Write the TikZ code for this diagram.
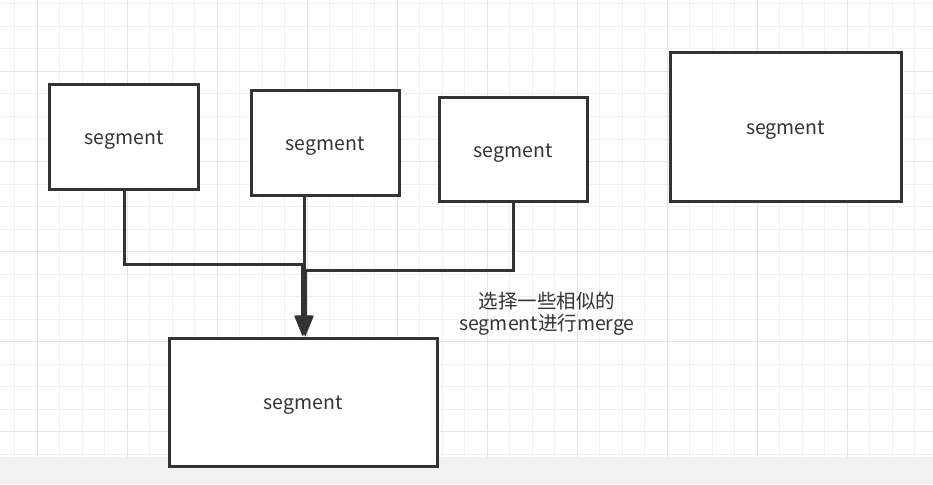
\documentclass[tikz,border=0pt]{standalone}
\usepackage{fontspec}
\setmainfont{Noto Sans CJK SC}
\usetikzlibrary{arrows.meta}

\definecolor{linegray}{HTML}{333333}
\definecolor{gridminor}{HTML}{F0F0F0}
\definecolor{gridmajor}{HTML}{E4E4E4}
\definecolor{stripgray}{HTML}{F1F1F1}

\begin{document}
\begin{tikzpicture}[x=1pt,y=-1pt]

\tikzstyle{seg} = [rectangle, inner sep=0pt, text height=18pt, text depth=3pt, draw=linegray, fill=white, line width=3pt, text=linegray, font=\fontsize{19.5}{22}\selectfont]
\tikzstyle{arrow} = [draw=linegray, line width=3pt, -{Triangle[length=21pt,width=16pt]}]

\useasboundingbox (0,0) rectangle (933,484);
\fill [white] (0,0) rectangle (933,484);

% grid
\foreach \x in {14.5,37,...,933} \draw [gridminor, line width=1pt] (\x,0) -- (\x,457);
\foreach \y in {4,26.5,...,457} \draw [gridminor, line width=1pt] (0,\y) -- (933,\y);
\foreach \x in {37,127,...,933} \draw [gridmajor, line width=1pt] (\x,0) -- (\x,457);
\foreach \y in {71.5,161.5,...,457} \draw [gridmajor, line width=1pt] (0,\y) -- (933,\y);
\fill [stripgray] (0,457) rectangle (933,484);

\node (seg1) [seg, minimum width=149pt, minimum height=104pt] at (124,137) {segment};
\node (seg2) [seg, minimum width=148pt, minimum height=104pt] at (325,143) {segment};
\node (seg3) [seg, minimum width=148pt, minimum height=103pt] at (513,149.5) {segment};
\node (seg4) [seg, minimum width=231pt, minimum height=148pt] at (785.5,127) {segment};
\node (merged) [seg, minimum width=268pt, minimum height=128pt] at (303,402) {segment};

\node (note) [align=center, text=linegray, font=\fontsize{19.5}{22}\selectfont] at (547,313.5) {选择一些相似的\\segment进行merge};

\coordinate (bend1) at (302.5,264.5);
\coordinate (bend2) at (304,196);
\coordinate (bend3) at (305.5,270.5);

\draw [arrow] (seg1.south) |- (bend1) -- (merged.north -| bend1);
\draw [arrow] (seg2.south -| bend2) -- (merged.north -| bend2);
\draw [arrow] (seg3.south) |- (bend3) -- (merged.north -| bend3);

\end{tikzpicture}
\end{document}
